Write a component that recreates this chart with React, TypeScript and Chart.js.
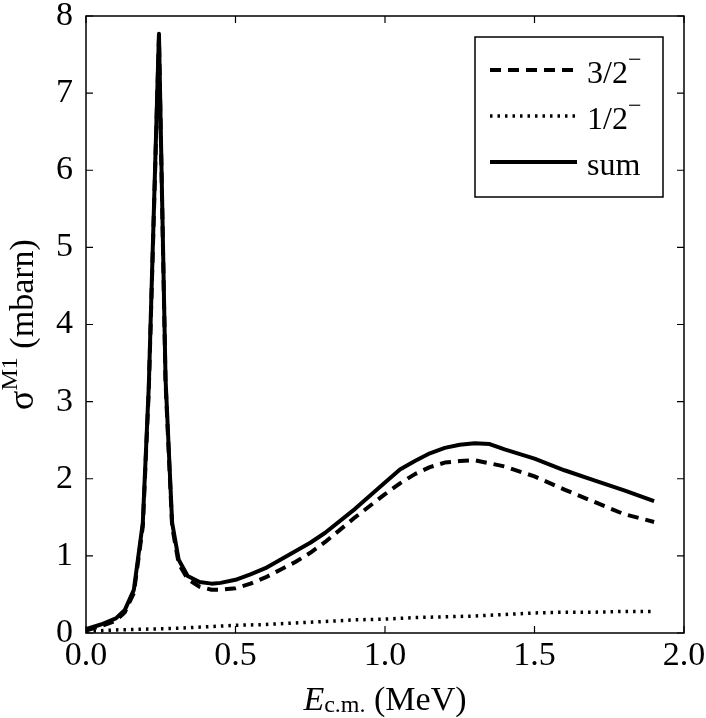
import { useEffect, useRef } from "react";
import { Chart, registerables } from "chart.js";

Chart.register(...registerables);

// E_c.m. (MeV) sample points
const energy = [
  0, 0.05, 0.1, 0.13, 0.16, 0.19, 0.21, 0.244, 0.266, 0.288, 0.31, 0.34, 0.38, 0.42, 0.45, 0.5,
  0.55, 0.6, 0.65, 0.7, 0.75, 0.8, 0.9, 1.0, 1.05, 1.1, 1.15, 1.2, 1.25, 1.3, 1.35, 1.4, 1.5, 1.6,
  1.7, 1.8, 1.9,
];
// sigma M1 (mbarn)
const sigmaSum = [
  0.05, 0.11, 0.19, 0.3, 0.56, 1.43, 3.2, 7.77, 3.3, 1.43, 0.95, 0.74, 0.66, 0.64, 0.65, 0.69,
  0.76, 0.84, 0.95, 1.06, 1.17, 1.3, 1.61, 1.95, 2.12, 2.23, 2.33, 2.4, 2.44, 2.46, 2.45, 2.38,
  2.26, 2.11, 1.98, 1.85, 1.71,
];
const sigma32 = [
  0.03, 0.09, 0.16, 0.27, 0.52, 1.38, 3.15, 7.72, 3.25, 1.38, 0.9, 0.7, 0.6, 0.56, 0.56, 0.58,
  0.64, 0.72, 0.82, 0.92, 1.04, 1.18, 1.5, 1.8, 1.94, 2.06, 2.15, 2.21, 2.23, 2.24, 2.2, 2.16,
  2.03, 1.86, 1.7, 1.54, 1.44,
];
const energyHalf = [0, 0.1, 0.2, 0.3, 0.4, 0.5, 0.6, 0.7, 0.8, 0.9, 1.0, 1.1, 1.2, 1.3, 1.4, 1.5, 1.6, 1.7, 1.8, 1.9];
const sigma12 = [0.02, 0.04, 0.05, 0.06, 0.08, 0.1, 0.11, 0.13, 0.15, 0.17, 0.18, 0.2, 0.21, 0.22, 0.24, 0.26, 0.27, 0.27, 0.28, 0.28];

const legendLabels = ["3/2", "1/2", "sum"];
const legendSups = ["\u2212", "\u2212", ""];

const SERIF = "Liberation Serif, DejaVu Serif, serif";

const toPoints = (xs: number[], ys: number[]) => xs.map((x, i) => ({ x, y: ys[i] }));

const framePlugin = {
  id: "frame",
  afterDraw(chart: any) {
    const { ctx, chartArea: a, scales } = chart;
    ctx.save();
    ctx.strokeStyle = "#000";
    ctx.lineWidth = 1.5;
    ctx.strokeRect(a.left, a.top, a.right - a.left, a.bottom - a.top);

    // inward ticks on all four sides
    const len = 7;
    ctx.lineWidth = 1.2;
    ctx.beginPath();
    scales.x.ticks.forEach((t: any) => {
      const px = scales.x.getPixelForValue(t.value);
      ctx.moveTo(px, a.bottom);
      ctx.lineTo(px, a.bottom - len);
      ctx.moveTo(px, a.top);
      ctx.lineTo(px, a.top + len);
    });
    scales.y.ticks.forEach((t: any) => {
      const py = scales.y.getPixelForValue(t.value);
      ctx.moveTo(a.left, py);
      ctx.lineTo(a.left + len, py);
      ctx.moveTo(a.right, py);
      ctx.lineTo(a.right - len, py);
    });
    ctx.stroke();

    // x title: E_c.m. (MeV)
    ctx.fillStyle = "#000";
    ctx.textBaseline = "alphabetic";
    ctx.textAlign = "left";
    const big = `34px ${SERIF}`;
    const bigIt = `italic 34px ${SERIF}`;
    const small = `24px ${SERIF}`;
    ctx.font = bigIt;
    const wE = ctx.measureText("E").width;
    ctx.font = small;
    const wSub = ctx.measureText("c.m.").width;
    ctx.font = big;
    const wRest = ctx.measureText(" (MeV)").width;
    const cx = (a.left + a.right) / 2;
    let x = cx - (wE + wSub + wRest) / 2;
    const base = 710;
    ctx.font = bigIt;
    ctx.fillText("E", x, base);
    x += wE;
    ctx.font = small;
    ctx.fillText("c.m.", x, base + 2);
    x += wSub;
    ctx.font = big;
    ctx.fillText(" (MeV)", x, base);

    // y title: sigma^M1 (mbarn), rotated
    ctx.save();
    ctx.translate(33, (a.top + a.bottom) / 2);
    ctx.rotate(-Math.PI / 2);
    ctx.font = `36px ${SERIF}`;
    const wS = ctx.measureText("\u03c3").width;
    ctx.font = small;
    const wM = ctx.measureText("M1").width;
    ctx.font = big;
    const wB = ctx.measureText(" (mbarn)").width;
    let yx = -(wS + wM + wB) / 2;
    ctx.font = `36px ${SERIF}`;
    ctx.fillText("\u03c3", yx, 0);
    yx += wS;
    ctx.font = small;
    ctx.fillText("M1", yx, -16);
    yx += wM;
    ctx.font = big;
    ctx.fillText(" (mbarn)", yx, 0);
    ctx.restore();

    // legend box
    const bw = 188;
    const bh = 160;
    const bl = a.right - 21 - bw;
    const bt = a.top + 21;
    ctx.fillStyle = "#fff";
    ctx.fillRect(bl, bt, bw, bh);
    ctx.lineWidth = 1.5;
    ctx.strokeStyle = "#000";
    ctx.strokeRect(bl, bt, bw, bh);
    chart.data.datasets.forEach((ds: any, i: number) => {
      const ry = bt + 33 + i * 46;
      ctx.save();
      ctx.lineWidth = ds.borderWidth;
      ctx.setLineDash(ds.borderDash || []);
      ctx.lineCap = "butt";
      ctx.beginPath();
      ctx.moveTo(bl + 15, ry);
      ctx.lineTo(bl + 102, ry);
      ctx.stroke();
      ctx.restore();
      ctx.fillStyle = "#000";
      ctx.font = `32px ${SERIF}`;
      ctx.fillText(legendLabels[i], bl + 112, ry + 13);
      if (legendSups[i]) {
        const w = ctx.measureText(legendLabels[i]).width;
        ctx.font = small;
        ctx.fillText(legendSups[i], bl + 112 + w, ry - 3);
      }
    });
    ctx.restore();
  },
};

const CrossSectionChart = () => {
  const chartRef = useRef<HTMLCanvasElement>(null);

  useEffect(() => {
    const ctx = chartRef.current!.getContext("2d")!;

    const chart = new Chart(ctx, {
      type: "line",
      data: {
        datasets: [
          {
            label: "3/2\u207b",
            data: toPoints(energy, sigma32),
            borderColor: "#000",
            borderWidth: 4,
            borderDash: [11, 7],
            pointRadius: 0,
            tension: 0,
            fill: false,
            borderJoinStyle: "round",
          },
          {
            label: "1/2\u207b",
            data: toPoints(energyHalf, sigma12),
            borderColor: "#000",
            borderWidth: 3.5,
            borderDash: [2.5, 5],
            pointRadius: 0,
            tension: 0,
            fill: false,
          },
          {
            label: "sum",
            data: toPoints(energy, sigmaSum),
            borderColor: "#000",
            borderWidth: 4,
            pointRadius: 0,
            tension: 0,
            fill: false,
            borderJoinStyle: "round",
          },
        ],
      },
      options: {
        responsive: true,
        maintainAspectRatio: false,
        animation: false,
        layout: { padding: { top: 16, right: 22, left: 0, bottom: 0 } },
        plugins: {
          legend: { display: false },
          tooltip: { enabled: false },
        },
        scales: {
          x: {
            type: "linear",
            min: 0,
            max: 2,
            grid: { display: false, drawTicks: false },
            border: { display: false },
            ticks: {
              stepSize: 0.5,
              padding: 3,
              color: "#000",
              maxRotation: 0,
              font: { family: SERIF, size: 34 },
              callback: (v: any) => Number(v).toFixed(1),
            },
            afterFit: (s: any) => {
              s.height = 85;
              s.paddingLeft = 0;
              s.paddingRight = 0;
            },
          },
          y: {
            min: 0,
            max: 8,
            grid: { display: false, drawTicks: false },
            border: { display: false },
            ticks: {
              stepSize: 1,
              padding: 13,
              color: "#000",
              font: { family: SERIF, size: 34 },
            },
            afterFit: (s: any) => {
              s.width = 86;
              s.paddingTop = 0;
              s.paddingBottom = 0;
            },
          },
        },
      },
      plugins: [framePlugin],
    });

    return () => {
      chart.destroy();
    };
  }, []);

  return (
    <div style={{ position: "absolute", left: 0, top: 0, width: "706px", height: "718px", background: "#fff" }}>
      <canvas ref={chartRef}></canvas>
    </div>
  );
};

export default CrossSectionChart;
